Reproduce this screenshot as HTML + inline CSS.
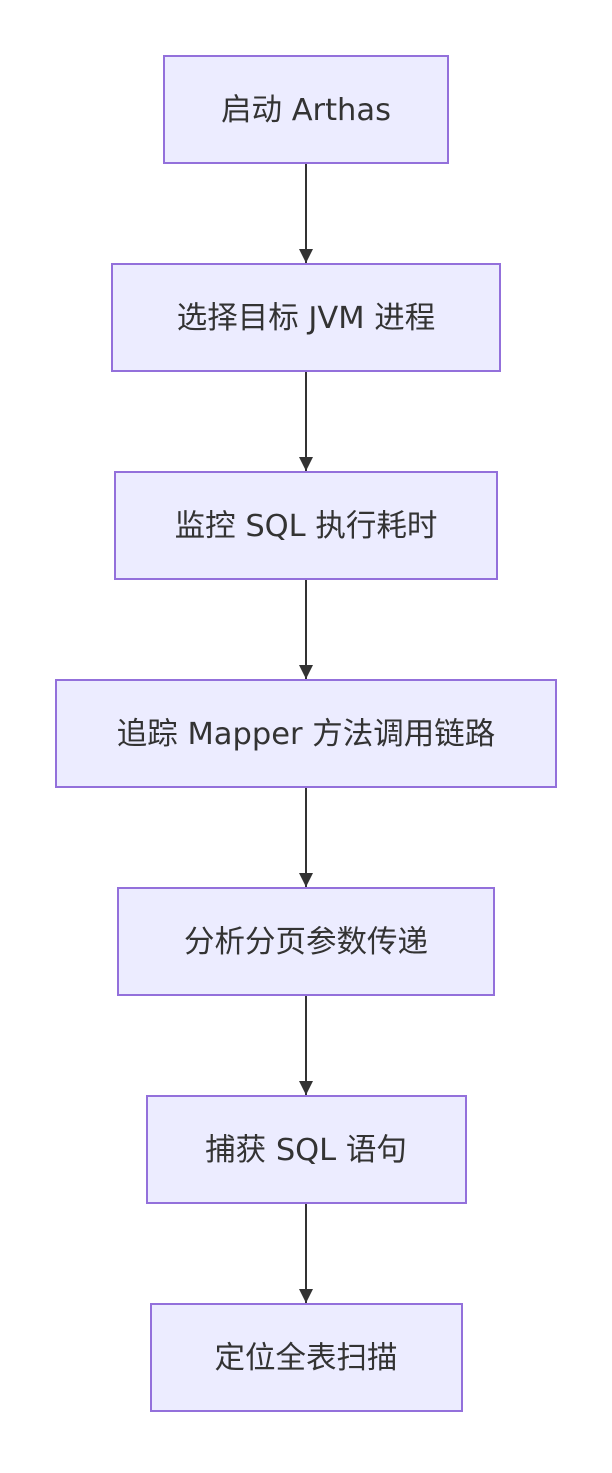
<!DOCTYPE html>
<html><head><meta charset="utf-8"><style>
html,body{margin:0;padding:0;background:#fff;}
svg text{font-family:"DejaVu Sans","Noto Sans CJK SC",sans-serif;font-size:30.5px;fill:#333;}
</style></head><body>
<svg width="612" height="1468" viewBox="0 0 612 1468" xmlns="http://www.w3.org/2000/svg">
<defs><marker id="a" markerWidth="14" markerHeight="16" refX="14" refY="7" orient="auto" markerUnits="userSpaceOnUse"><path d="M0,0 L14,7 L0,14 z" fill="#333"/></marker></defs>
<g stroke="#333" stroke-width="2" fill="none">
<path d="M306 164 V263" marker-end="url(#a)"/>
<path d="M306 372 V471" marker-end="url(#a)"/>
<path d="M306 580 V679" marker-end="url(#a)"/>
<path d="M306 788 V887" marker-end="url(#a)"/>
<path d="M306 996 V1095" marker-end="url(#a)"/>
<path d="M306 1204 V1303" marker-end="url(#a)"/>
</g>
<g fill="#ECECFF" stroke="#9370DB" stroke-width="2">
<rect x="164" y="56" width="284" height="107"/>
<rect x="112" y="264" width="388" height="107"/>
<rect x="115" y="472" width="382" height="107"/>
<rect x="56" y="680" width="500" height="107"/>
<rect x="118" y="888" width="376" height="107"/>
<rect x="147" y="1096" width="319" height="107"/>
<rect x="151" y="1304" width="311" height="107"/>
</g>
<g text-anchor="middle">
<text x="306" y="120">启动 Arthas</text>
<text x="306" y="328">选择目标 JVM 进程</text>
<text x="306" y="536">监控 SQL 执行耗时</text>
<text x="306" y="744">追踪 Mapper 方法调用链路</text>
<text x="306" y="952">分析分页参数传递</text>
<text x="306" y="1160">捕获 SQL 语句</text>
<text x="306" y="1368">定位全表扫描</text>
</g>
</svg>
</body></html>
